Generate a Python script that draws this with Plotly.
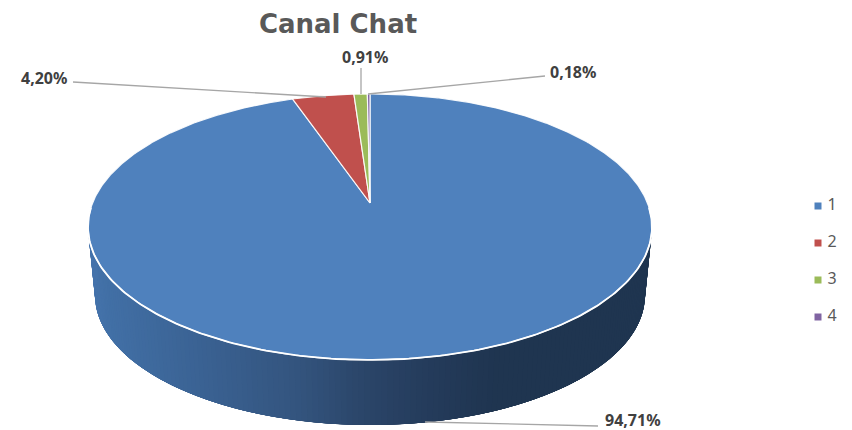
import numpy as np
import plotly.graph_objects as go

categories = ["1", "2", "3", "4"]
values = [94.71, 4.20, 0.91, 0.18]
colors = ["#4f81bd", "#c0504d", "#9bbb59", "#8064a2"]
title = "Canal Chat"

# projection of the pie disc on the plot (pixel-like axes)
CX, CY, RX, RY, PERSP = 370, 203, 277.4, 128.7, 0.18
DEPTH_Y, DEPTH_S = 69, 0.975
side_stops_x = [90, 110, 200, 300, 360, 430, 500, 650]
side_stops_rgb = [(70, 116, 172), (66, 112, 166), (59, 99, 148), (52, 85, 127),
                  (44, 71, 107), (37, 60, 92), (31, 53, 80), (31, 53, 80)]
legend_x, legend_y, legend_step = 818, 206, 37


def rim(deg, bottom=False):
    a = np.radians(deg)
    d = 1 + PERSP * np.cos(a)
    x = RX * np.sin(a) / d
    y = -RY * np.cos(a) / d
    if bottom:
        return CX + DEPTH_S * x, CY + DEPTH_Y + DEPTH_S * y
    return CX + x, CY + y


fig = go.Figure()

# side wall: overlapping strips painted from right to left, so no seams show
for start in np.arange(92, 268, 1.0):
    arc = np.linspace(start, min(start + 6, 268), 7)
    xt, yt = rim(arc)
    xb, yb = rim(arc[::-1], bottom=True)
    mid = float((xt[0] + xb[-1]) / 2)
    rgb = [int(np.interp(mid, side_stops_x, [c[i] for c in side_stops_rgb])) for i in range(3)]
    col = f"rgb({rgb[0]},{rgb[1]},{rgb[2]})"
    fig.add_trace(go.Scatter(
        x=np.r_[xt, xb], y=np.r_[yt, yb], mode="lines", fill="toself", fillcolor=col,
        line=dict(width=0), hoverinfo="skip", showlegend=False))

# top slices
total = sum(values)
ang = 0.0
for name, v, c in zip(categories, values, colors):
    sweep = 360 * v / total
    arc = np.linspace(ang, ang + sweep, max(3, int(sweep * 2)))
    x, y = rim(arc)
    fig.add_trace(go.Scatter(
        x=np.r_[CX, x, CX], y=np.r_[CY, y, CY], mode="lines", fill="toself", fillcolor=c,
        line=dict(color="rgba(255,255,255,0.9)", width=1.2), name=name,
        hoverinfo="name", showlegend=False))
    ang += sweep

# bright front rim
arc = np.linspace(92, 268, 200)
x, y = rim(arc)
fig.add_trace(go.Scatter(x=x, y=y, mode="lines", line=dict(color="white", width=1.8),
                         hoverinfo="skip", showlegend=False))

# legend
fig.add_trace(go.Scatter(
    x=[legend_x] * 4, y=[legend_y + i * legend_step for i in range(4)],
    mode="markers+text", text=[f" {c}" for c in categories], textposition="middle right",
    textfont=dict(family="Noto Sans", size=16, color="#595959"),
    marker=dict(symbol="square", size=7, color=colors),
    hoverinfo="skip", showlegend=False))

# leader lines and labels
leaders = [
    ((425, 422), (598, 426), (603, 420, "left")),
    ((326, 97), (73, 82), (69, 78, "right")),
    ((361, 94), (361, 68), (365, 57, "center")),
    ((368, 94), (545, 76), (548, 72, "left")),
]
for (p0, p1, lab), v in zip(leaders, values):
    fig.add_shape(type="line", x0=p0[0], y0=p0[1], x1=p1[0], y1=p1[1], xref="x", yref="y",
                  line=dict(color="#a6a6a6", width=1.3))
    fig.add_annotation(x=lab[0], y=lab[1], xref="x", yref="y", showarrow=False,
                       text=f"<b>{v:.2f}%</b>".replace(".", ","), xanchor=lab[2], yanchor="middle",
                       font=dict(family="Noto Sans", size=16, color="#404040"))

fig.update_layout(
    width=852, height=430, margin=dict(l=0, r=0, t=0, b=0),
    paper_bgcolor="white", plot_bgcolor="white", showlegend=False,
    title=dict(text=f"<b>{title}</b>", x=338 / 852, xanchor="center", y=1 - 24 / 430, yanchor="middle",
               font=dict(family="DejaVu Sans", size=26, color="#595959")),
    xaxis=dict(range=[0, 852], visible=False, fixedrange=True),
    yaxis=dict(range=[430, 0], visible=False, fixedrange=True),
)
fig.write_html("out.html", config={"displayModeBar": False},
               post_script="document.body.style.margin='0';document.body.style.overflow='hidden';")
